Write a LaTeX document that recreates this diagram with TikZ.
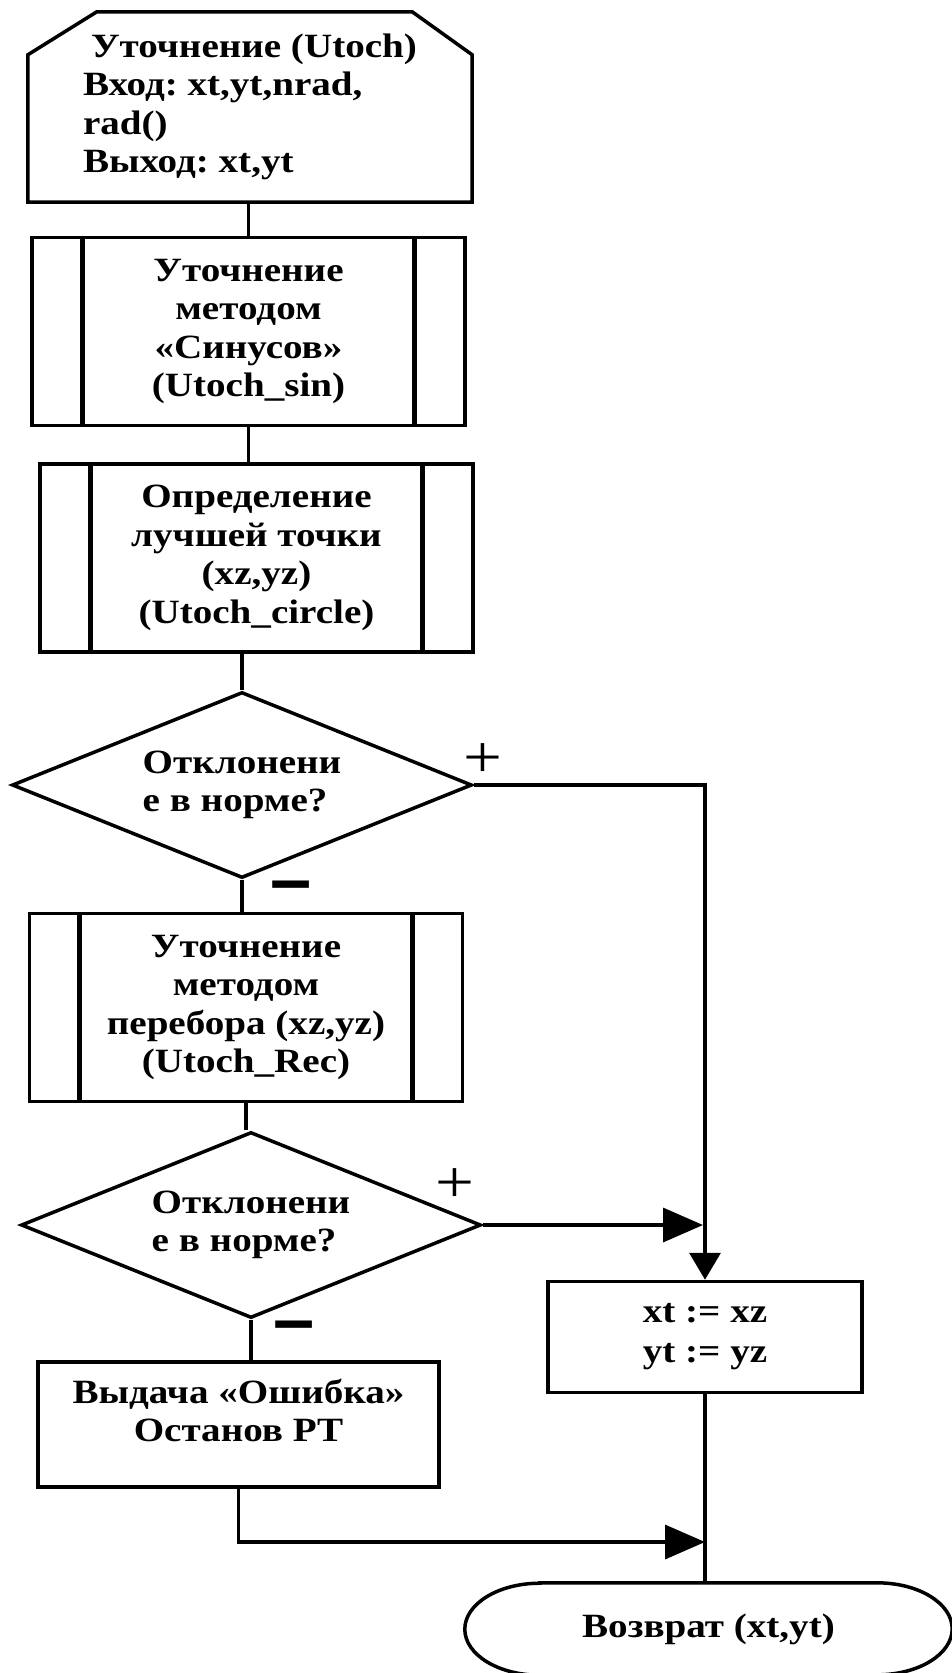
\documentclass[tikz,border=0pt]{standalone}
\usepackage{fontspec}
\setmainfont{Liberation Serif}[FakeStretch=1.15]
\newfontfamily\signfont{Liberation Sans}
\usetikzlibrary{arrows.meta,shapes.geometric}
\frenchspacing
\begin{document}
\begin{tikzpicture}[x=1pt,y=-1pt,
  txt/.style={font=\bfseries\fontsize{34}{38.5}\selectfont,inner sep=0pt},
  hdr/.style={txt,minimum width=444pt,minimum height=190pt,align=left},
  subproc/.style={txt,draw,line width=3.5pt,minimum width=433pt,minimum height=188pt,align=center},
  test/.style={txt,draw,diamond,line width=3.5pt,aspect=2.47,minimum width=460pt,minimum height=186pt,align=left},
  proc/.style={txt,draw,line width=3.5pt,align=center},
  plus/.style={font=\fontsize{60}{60}\selectfont,inner sep=0pt},
  minus/.style={font=\signfont\bfseries\fontsize{74}{74}\selectfont,inner sep=0pt},
  line/.style={line width=3.5pt},
  flow/.style={line,-{Triangle[length=40pt,width=34pt]}},
  flowdown/.style={line,-{Triangle[length=27pt,width=31pt]}}]
\fill[white] (0,0) rectangle (952,1673);
\useasboundingbox (0,0) rectangle (952,1673);
\clip (0,0) rectangle (952,1673);

\node[hdr] (start) at (250,107) {\hspace*{8pt}Уточнение (Utoch)\\Вход: xt,yt,nrad,\\rad()\\Выход: xt,yt};
\draw[line] ([yshift=-43pt]start.north west) -- ([xshift=69pt]start.north west) -- ([xshift=-60pt]start.north east) -- ([yshift=-43pt]start.north east) -- (start.south east) -- (start.south west) -- cycle;

\node[subproc] (sin) at (248.5,331.5) {Уточнение\\методом\\«Синусов»\\(Utoch\_sin)};
\node[subproc] (best) at (256.5,558) {Определение\\лучшей точки\\(xz,yz)\\(Utoch\_circle)};
\node[test] (chk1) at (242,785) {Отклонени\\е в норме?};
\node[subproc] (rec) at (246,1007.5) {Уточнение\\методом\\перебора (xz,yz)\\(Utoch\_Rec)};
\node[test] (chk2) at (251,1225) {Отклонени\\е в норме?};
\node[proc,minimum width=401pt,minimum height=125pt] (err) at (238.5,1424.5) {Выдача «Ошибка»\\Останов РТ\\[-10pt]\mbox{}};
\node[proc,minimum width=314pt,minimum height=111pt,font=\bfseries\fontsize{34}{40}\selectfont] (asg) at (705,1337) {xt := xz\\yt := yz};
\node[txt,minimum width=487pt,minimum height=92pt] (ret) at (708.5,1629) {Возврат (xt,yt)};
\draw[line] ([xshift=75pt]ret.north west) -- ([xshift=-75pt]ret.north east)
  arc[start angle=90,end angle=-90,x radius=75pt,y radius=46pt]
  -- ([xshift=75pt]ret.south west)
  arc[start angle=270,end angle=90,x radius=75pt,y radius=46pt] -- cycle;

% side bars of the subroutine boxes
\foreach \n in {sin,best,rec}{
  \draw[line width=5pt] ([xshift=52pt]\n.north west) -- ([xshift=52pt]\n.south west);
  \draw[line width=5pt] ([xshift=-52pt]\n.north east) -- ([xshift=-52pt]\n.south east);
}

\draw[line] (sin.north |- start.south) -- (sin.north);
\draw[line] (sin.south) -- (sin.south |- best.north);
\draw[line] (chk1.north |- best.south) -- (chk1.north);
\draw[line] (chk1.south) -- (chk1.south |- rec.north);
\draw[line] (rec.south) -- (rec.south |- chk2.north);
\draw[line] (chk2.south) -- (chk2.south |- err.north);
\draw[flowdown] (chk1.east) -| (asg.north);
\draw[flow,shorten >=2pt] (chk2.east) -- (chk2.east -| asg.north);
\draw[line] (asg.south) -- (asg.south |- ret.north);
\coordinate (merge) at (705,1542);
\draw[flow] (err.south) |- (merge);

\node[plus] (p1) at (483,761) {+};
\node[minus] (m1) at (291,893) {–};
\node[plus] (p2) at (455,1186) {+};
\node[minus] (m2) at (294,1333) {–};
\end{tikzpicture}
\end{document}
